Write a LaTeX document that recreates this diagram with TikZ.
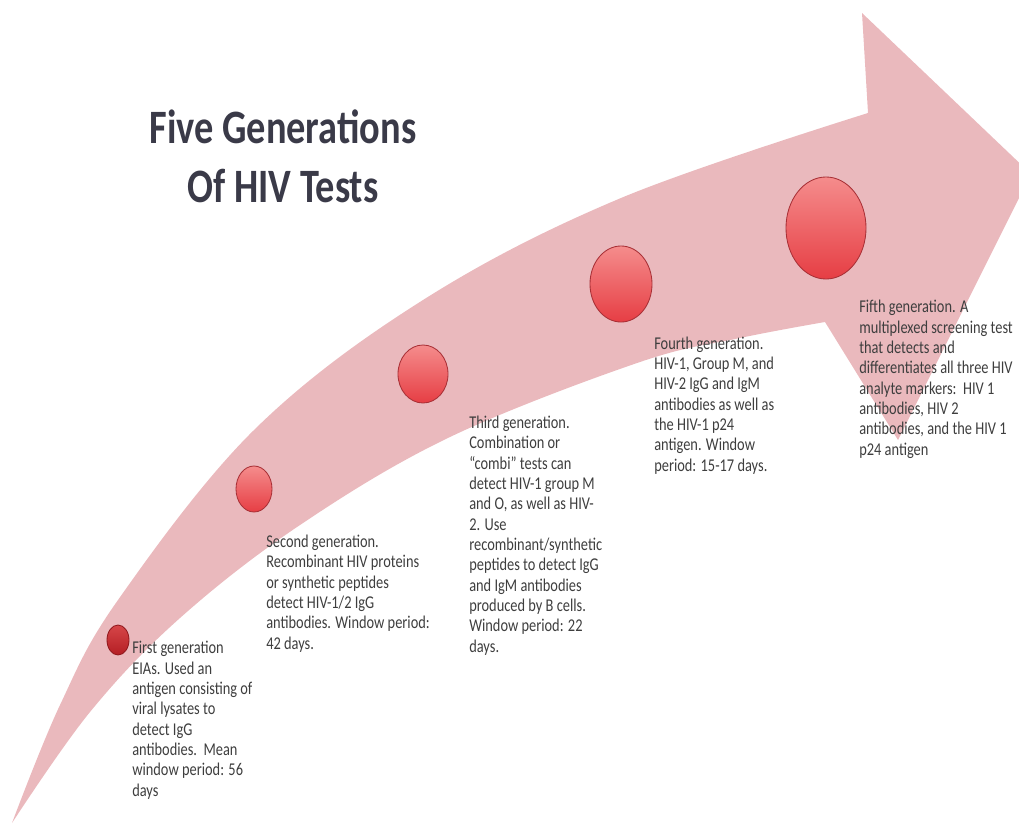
\documentclass[tikz,border=0pt]{standalone}
\usepackage{fontspec}
\setmainfont{Carlito}[FakeStretch=0.8]
\usepackage{tikz}
\definecolor{arrowpink}{RGB}{234,185,189}
\definecolor{balltop}{RGB}{245,140,140}
\definecolor{ballred}{RGB}{230,62,68}
\definecolor{balledge}{RGB}{168,48,54}
\definecolor{darktop}{RGB}{214,70,72}
\definecolor{darkred}{RGB}{180,30,36}
\definecolor{textgray}{RGB}{62,62,62}
\definecolor{titlegray}{RGB}{58,58,72}
\tikzstyle{every node}=[font=\fontsize{12.8}{14.44}\selectfont, text=textgray]
\tikzstyle{gen}=[anchor=base west, align=left, inner sep=0pt]
\tikzstyle{ball}=[ellipse, draw=balledge, line width=0.6pt, top color=balltop, bottom color=ballred, inner sep=0pt]
\usetikzlibrary{shapes.geometric}

\begin{document}
\begin{tikzpicture}[x=0.025cm, y=-0.025cm]
                \useasboundingbox (0, 0) rectangle (1019, 823);
                \clip (0, 0) rectangle (1019, 823);
                \fill[arrowpink] plot[smooth, tension=0.6] coordinates {(12,823) (60,705) (118,600) (254,430) (423,300) (621,198) (868,113)}
                    -- (862,13) -- (1031,174) -- (898,440) -- (825,322)
                    -- plot[smooth, tension=0.6] coordinates {(825,322) (740,338) (640,362) (450,437) (300,525) (180,618) (90,712) (12,823)} -- cycle;
                \node[ball, top color=darktop, bottom color=darkred, draw=darkred!80!black, minimum width=0.55cm, minimum height=0.75cm] (g1) at (118, 640) {};
                \node[ball, minimum width=0.9cm, minimum height=1.15cm] (g2) at (254, 489) {};
                \node[ball, minimum width=1.25cm, minimum height=1.45cm] (g3) at (423, 374) {};
                \node[ball, minimum width=1.55cm, minimum height=1.9cm] (g4) at (621, 284) {};
                \node[ball, minimum width=2cm, minimum height=2.55cm] (g5) at (826, 228) {};
                \node[anchor=base, align=center, inner sep=0pt, text=titlegray, font=\fontsize{34.1}{41.3}\selectfont\bfseries] (title) at (283, 202) {Five Generations\\Of HIV Tests};
                \node[gen] (first) at (132, 796) {First generation\\EIAs. Used an\\antigen consisting of\\viral lysates to\\detect IgG\\antibodies.\ \ Mean\\window period: 56\\days};
                \node[gen] (second) at (266, 649) {Second generation.\\Recombinant HIV proteins\\or synthetic peptides\\detect HIV-1/2 IgG\\antibodies. Window period:\\42 days.};
                \node[gen] (third) at (469, 652) {Third generation.\\Combination or\\“combi” tests can\\detect HIV-1 group M\\and O, as well as HIV-\\2. Use\\recombinant/synthetic\\peptides to detect IgG\\and IgM antibodies\\produced by B cells.\\Window period: 22\\days.};
                \node[gen] (fourth) at (654, 471) {Fourth generation.\\HIV-1, Group M, and\\HIV-2 IgG and IgM\\antibodies as well as\\the HIV-1 p24\\antigen. Window\\period: 15-17 days.};
                \node[gen] (fifth) at (859, 455) {Fifth generation. A\\multiplexed screening test\\that detects and\\differentiates all three HIV\\analyte markers:\ \ HIV 1\\antibodies, HIV 2\\antibodies, and the HIV 1\\p24 antigen};
            \end{tikzpicture}
\end{document}
